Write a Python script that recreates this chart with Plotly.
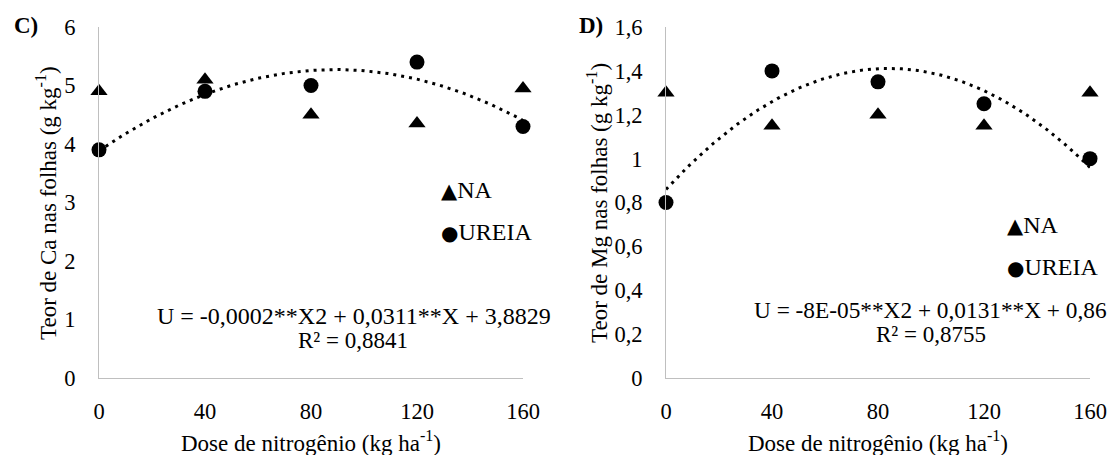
import numpy as np
import plotly.graph_objects as go

# ---------------- data ----------------
doses = [0, 40, 80, 120, 160]
ca_na = [4.9, 5.1, 4.5, 4.35, 4.95]
ca_ureia = [3.9, 4.9, 5.0, 5.4, 4.3]
mg_na = [1.3, 1.15, 1.2, 1.15, 1.3]
mg_ureia = [0.8, 1.4, 1.35, 1.25, 1.0]

x_tickvals = [0, 40, 80, 120, 160]
x_ticktext = ["0", "40", "80", "120", "160"]
ca_tickvals = [0, 1, 2, 3, 4, 5, 6]
ca_ticktext = ["0", "1", "2", "3", "4", "5", "6"]
mg_tickvals = [0, 0.2, 0.4, 0.6, 0.8, 1.0, 1.2, 1.4, 1.6]
mg_ticktext = ["0", "0,2", "0,4", "0,6", "0,8", "1", "1,2", "1,4", "1,6"]

eq_ca = "U = -0,0002**X2 + 0,0311**X + 3,8829"
r2_ca = "R² = 0,8841"
eq_mg = "U = -8E-05**X2 + 0,0131**X + 0,86"
r2_mg = "R² = 0,8755"

W, H = 1115, 455
FONT = "Liberation Serif"
FS_TICK = 22.5
FS_TITLE = 23
FS_TEXT = 24
AXC = "#BFBFBF"


def px(x):
    return x / W


def py(y):
    return 1 - y / H


fig = go.Figure()


# polynomial trend (order 2) fitted to the UREIA series, as Excel does
def trend(xs, ys):
    c = np.polyfit(xs, ys, 2)
    xx = np.linspace(min(xs), max(xs), 161)
    return xx, np.polyval(c, xx)


panels = [
    (ca_na, ca_ureia, "x", "y"),
    (mg_na, mg_ureia, "x2", "y2"),
]
for na, ur, xa, ya in panels:
    fig.add_trace(go.Scatter(x=doses, y=na, mode="markers", xaxis=xa, yaxis=ya,
                             marker=dict(symbol="triangle-up", size=15, color="black"),
                             cliponaxis=False, showlegend=False))
    fig.add_trace(go.Scatter(x=doses, y=ur, mode="markers", xaxis=xa, yaxis=ya,
                             marker=dict(symbol="circle", size=15, color="black"),
                             cliponaxis=False, showlegend=False))
    tx, ty = trend(doses, ur)
    fig.add_trace(go.Scatter(x=tx, y=ty, mode="lines", xaxis=xa, yaxis=ya,
                             line=dict(color="black", width=3, dash="3px,5px"),
                             cliponaxis=False, showlegend=False))

ydom = [py(378), py(27)]
axis_common = dict(showgrid=False, zeroline=False, showline=True, linecolor=AXC,
                   linewidth=1, ticks="", automargin=False,
                   tickfont=dict(family=FONT, size=FS_TICK, color="black"))

fig.update_layout(
    template="none",
    width=W, height=H,
    margin=dict(l=0, r=0, t=0, b=0, pad=0, autoexpand=False),
    paper_bgcolor="white", plot_bgcolor="white",
    font=dict(family=FONT, size=FS_TICK, color="black"),
    showlegend=False,
    xaxis=dict(domain=[px(99), px(523)], range=[0, 160], tickvals=x_tickvals,
               ticktext=x_ticktext, anchor="y", ticklabelstandoff=13, **axis_common),
    yaxis=dict(domain=ydom, range=[0, 6], tickvals=ca_tickvals, ticktext=ca_ticktext,
               anchor="x", ticklabelstandoff=18, **axis_common),
    xaxis2=dict(domain=[px(666), px(1090)], range=[0, 160], tickvals=x_tickvals,
                ticktext=x_ticktext, anchor="y2", ticklabelstandoff=13, **axis_common),
    yaxis2=dict(domain=ydom, range=[0, 1.6], tickvals=mg_tickvals, ticktext=mg_ticktext,
                anchor="x2", ticklabelstandoff=18, **axis_common),
)

ann = []


def text(x, y, t, xanchor="center", size=FS_TEXT, bold=False, angle=0):
    f = dict(family=FONT, size=size, color="black")
    if bold:
        f["weight"] = "bold"
    ann.append(dict(x=px(x), y=py(y), xref="paper", yref="paper", text=t,
                    showarrow=False, xanchor=xanchor, yanchor="middle", textangle=angle,
                    font=f))


# panel letters
text(12, 25, "C)", xanchor="left", bold=True, size=FS_TITLE)
text(577, 25, "D)", xanchor="left", bold=True, size=FS_TITLE)

# axis titles
text(311, 441, "Dose de nitrogênio (kg ha<sup>-1</sup>)", size=FS_TITLE)
text(878, 441, "Dose de nitrogênio (kg ha<sup>-1</sup>)", size=FS_TITLE)
text(46, 203, "Teor de Ca nas folhas (g kg<sup>-1</sup>)", angle=-90, size=FS_TITLE)
text(597, 203, "Teor de Mg nas folhas (g kg<sup>-1</sup>)", angle=-90, size=FS_TITLE)

# equations
text(155, 316, eq_ca, xanchor="left")
text(353, 340, r2_ca, size=FS_TITLE)
text(752, 310, eq_mg, xanchor="left", size=23.3)
text(931, 334, r2_mg, size=FS_TITLE)

# legends (symbol + label)
tri = "<span style='font-family:DejaVu Sans;font-size:21px'>▲</span>"
cir = "<span style='font-family:DejaVu Sans;font-size:20px'>●</span>"
text(439, 190, tri + "NA", xanchor="left")
text(439, 232, cir + "UREIA", xanchor="left")
text(1005, 225, tri + "NA", xanchor="left")
text(1005, 267, cir + "UREIA", xanchor="left")

fig.update_layout(annotations=ann)
fig.write_html("out.html")
